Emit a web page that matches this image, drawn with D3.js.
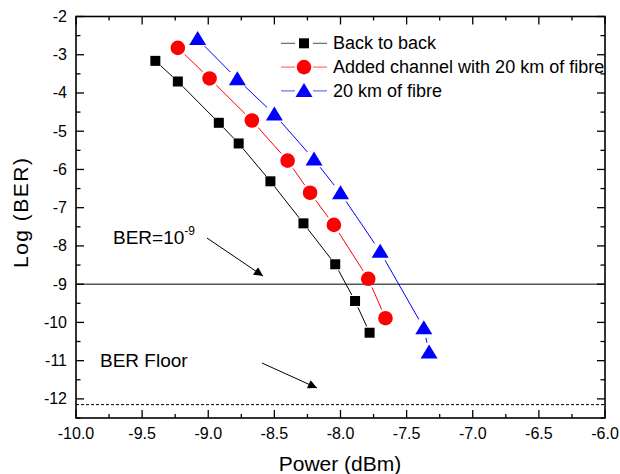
<!DOCTYPE html>
<html><head><meta charset="utf-8">
<script src="https://cdn.jsdelivr.net/npm/d3@7"></script>
<style>body{margin:0;background:#fff}svg{display:block}text{font-family:"Liberation Sans",Arial,sans-serif}</style>
</head><body><svg id="c" width="620" height="474"></svg>
<script>
const backX = [-9.40, -9.23, -8.92, -8.77, -8.53, -8.28, -8.04, -7.89, -7.78];
const backY = [-3.16, -3.70, -4.78, -5.32, -6.31, -7.41, -8.48, -9.44, -10.27];
const addX = [-9.23, -8.99, -8.67, -8.40, -8.23, -8.05, -7.79, -7.66];
const addY = [-2.82, -3.62, -4.72, -5.77, -6.61, -7.45, -8.86, -9.89];
const fibX = [-9.08, -8.78, -8.50, -8.20, -8.00, -7.70, -7.37, -7.33];
const fibY = [-2.59, -3.64, -4.56, -5.74, -6.62, -8.15, -10.15, -10.79];
const seriesNames = ["Back to back", "Added channel with 20 km of fibre", "20 km of fibre"];
const xTicks = [-10.0, -9.5, -9.0, -8.5, -8.0, -7.5, -7.0, -6.5, -6.0];
const yTicks = [-2, -3, -4, -5, -6, -7, -8, -9, -10, -11, -12];
const berLimit = -9;
const berFloor = -12.15;

const svg = d3.select("#c");
const L = 76, R = 605, T = 16.5, B = 418;
const x = d3.scaleLinear().domain([-10, -6]).range([L, R]);
const y = d3.scaleLinear().domain([-12.5, -2]).range([B, T]);

const series = [
  {xs: backX, ys: backY, color: "#000", shape: "square", r: 5},
  {xs: addX, ys: addY, color: "#ff0000", shape: "circle", r: 7.5},
  {xs: fibX, ys: fibY, color: "#0000ff", shape: "triangle", r: 8}
];

function marker(g, s, cx, cy) {
  if (s.shape === "square") {
    g.append("rect").attr("x", cx - 5).attr("y", cy - 5).attr("width", 10).attr("height", 10).attr("fill", s.color);
  } else if (s.shape === "circle") {
    g.append("circle").attr("cx", cx).attr("cy", cy).attr("r", 7.3).attr("fill", s.color);
  } else {
    const h = 14, w = 17;
    g.append("path").attr("d", `M${cx},${cy - h/2 - 1}L${cx + w/2},${cy + h/2 - 1}L${cx - w/2},${cy + h/2 - 1}Z`).attr("fill", s.color);
  }
}

// reference lines
svg.append("line").attr("x1", L).attr("x2", R).attr("y1", y(berLimit)).attr("y2", y(berLimit)).attr("stroke", "#000").attr("stroke-width", 1);
svg.append("line").attr("x1", L).attr("x2", R).attr("y1", y(berFloor)).attr("y2", y(berFloor)).attr("stroke", "#000").attr("stroke-width", 1).attr("stroke-dasharray", "3,2");

// data
series.forEach(s => {
  const g = svg.append("g");
  const pts = s.xs.map((v, i) => [x(v), y(s.ys[i])]);
  for (let i = 0; i < pts.length - 1; i++) {
    const [x1, y1] = pts[i], [x2, y2] = pts[i + 1];
    const dx = x2 - x1, dy = y2 - y1, len = Math.hypot(dx, dy);
    const gap = s.r + 2;
    if (len <= 2 * gap) continue;
    g.append("line")
      .attr("x1", x1 + dx / len * gap).attr("y1", y1 + dy / len * gap)
      .attr("x2", x2 - dx / len * gap).attr("y2", y2 - dy / len * gap)
      .attr("stroke", s.color).attr("stroke-width", 1);
  }
  pts.forEach(p => marker(g, s, p[0], p[1]));
});

// axes frame
const ax = svg.append("g");
ax.append("rect").attr("x", L).attr("y", T).attr("width", R - L).attr("height", B - T).attr("fill", "none").attr("stroke", "#000").attr("stroke-width", 1.6);

// x ticks
const xMinor = d3.range(-10, -5.99, 0.25);
xMinor.forEach(v => {
  const major = Math.abs(v * 2 - Math.round(v * 2)) < 1e-6;
  const len = major ? 8 : 4;
  ax.append("line").attr("x1", x(v)).attr("x2", x(v)).attr("y1", B).attr("y2", B - len).attr("stroke", "#000").attr("stroke-width", 1.3);
  ax.append("line").attr("x1", x(v)).attr("x2", x(v)).attr("y1", T).attr("y2", T + len).attr("stroke", "#000").attr("stroke-width", 1.3);
});
xTicks.forEach(v => {
  ax.append("text").attr("x", x(v)).attr("y", 439).attr("text-anchor", "middle").attr("font-size", 16).text(v.toFixed(1));
});
// y ticks
const yMinor = d3.range(-12.5, -1.99, 0.5);
yMinor.forEach(v => {
  const major = Math.abs(v - Math.round(v)) < 1e-6;
  const len = major ? 8 : 4.5;
  ax.append("line").attr("x1", L).attr("x2", L + len).attr("y1", y(v)).attr("y2", y(v)).attr("stroke", "#000").attr("stroke-width", 1.3);
  ax.append("line").attr("x1", R).attr("x2", R - len).attr("y1", y(v)).attr("y2", y(v)).attr("stroke", "#000").attr("stroke-width", 1.3);
});
yTicks.forEach(v => {
  ax.append("text").attr("x", 67).attr("y", y(v) + 5.5).attr("text-anchor", "end").attr("font-size", 16).text(v);
});

// axis titles
svg.append("text").attr("x", 340).attr("y", 471).attr("text-anchor", "middle").attr("font-size", 21).text("Power (dBm)");
svg.append("text").attr("transform", "translate(28,213) rotate(-90)").attr("text-anchor", "middle").attr("font-size", 21)
  .attr("textLength", 110).attr("lengthAdjust", "spacing").text("Log (BER)");

// legend
const leg = svg.append("g");
series.forEach((s, i) => {
  const cy = 43.3 + i * 23.8;
  leg.append("line").attr("x1", 281).attr("x2", 327).attr("y1", cy).attr("y2", cy).attr("stroke", s.color).attr("stroke-width", 1).attr("stroke-opacity", 0.7);
  const g = leg.append("g");
  g.append("rect").attr("x", 295).attr("y", cy - 10).attr("width", 18).attr("height", 20).attr("fill", "#fff");
  marker(g, s, 304, cy);
  leg.append("text").attr("x", 333).attr("y", cy + 6).attr("font-size", 18).text(seriesNames[i]);
});

// annotations
svg.append("defs").append("marker").attr("id", "ah").attr("viewBox", "0 0 10 10").attr("refX", 10).attr("refY", 5)
  .attr("markerWidth", 14).attr("markerHeight", 9).attr("markerUnits", "userSpaceOnUse").attr("orient", "auto")
  .append("path").attr("d", "M0,0L10,5L0,10Z").attr("fill", "#000");
const t1 = svg.append("text").attr("x", 113).attr("y", 243.5).attr("font-size", 19);
t1.append("tspan").text("BER=10");
t1.append("tspan").attr("dy", -9).attr("font-size", 12).text("-9");
svg.append("line").attr("x1", 207).attr("y1", 238).attr("x2", 263).attr("y2", 276).attr("stroke", "#000").attr("stroke-width", 1).attr("marker-end", "url(#ah)");
svg.append("text").attr("x", 100).attr("y", 367).attr("font-size", 19).text("BER Floor");
svg.append("line").attr("x1", 262).attr("y1", 363).attr("x2", 317).attr("y2", 388).attr("stroke", "#000").attr("stroke-width", 1).attr("marker-end", "url(#ah)");
</script></body></html>
